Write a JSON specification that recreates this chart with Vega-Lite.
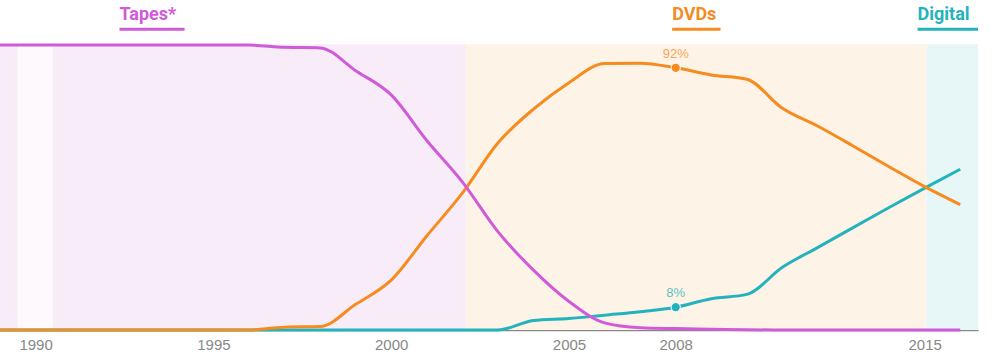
{
  "$schema": "https://vega.github.io/schema/vega-lite/v6.json",
  "width": 978,
  "height": 330,
  "autosize": {"type": "none"},
  "padding": {"top": 0, "left": 0, "right": 29, "bottom": 25},
  "background": "white",
  "config": {"view": {"stroke": null}, "font": "Liberation Sans"},
  "datasets": {
    "bands": [
      {"band": "Tapes", "start": 1989, "end": 2002.1},
      {"band": "Strip", "start": 1989.49, "end": 1990.48},
      {"band": "DVDs", "start": 2002.1, "end": 2015.05},
      {"band": "Digital", "start": 2015.05, "end": 2016.5}
    ],
    "shares": [
      {"year": 1989, "format": "Tapes", "share": 100},
      {"year": 1990, "format": "Tapes", "share": 100},
      {"year": 1991, "format": "Tapes", "share": 100},
      {"year": 1992, "format": "Tapes", "share": 100},
      {"year": 1993, "format": "Tapes", "share": 100},
      {"year": 1994, "format": "Tapes", "share": 100},
      {"year": 1995, "format": "Tapes", "share": 100},
      {"year": 1996, "format": "Tapes", "share": 100},
      {"year": 1997, "format": "Tapes", "share": 99.2},
      {"year": 1998, "format": "Tapes", "share": 99},
      {"year": 1999, "format": "Tapes", "share": 91},
      {"year": 2000, "format": "Tapes", "share": 82.5},
      {"year": 2001, "format": "Tapes", "share": 66.5},
      {"year": 2002, "format": "Tapes", "share": 52},
      {"year": 2003, "format": "Tapes", "share": 34.5},
      {"year": 2004, "format": "Tapes", "share": 21},
      {"year": 2005, "format": "Tapes", "share": 10},
      {"year": 2006, "format": "Tapes", "share": 2.5},
      {"year": 2007, "format": "Tapes", "share": 0.8},
      {"year": 2008, "format": "Tapes", "share": 0.5},
      {"year": 2009, "format": "Tapes", "share": 0.3},
      {"year": 2010, "format": "Tapes", "share": 0.1},
      {"year": 2011, "format": "Tapes", "share": 0},
      {"year": 2012, "format": "Tapes", "share": 0},
      {"year": 2013, "format": "Tapes", "share": 0},
      {"year": 2014, "format": "Tapes", "share": 0},
      {"year": 2015, "format": "Tapes", "share": 0},
      {"year": 2016, "format": "Tapes", "share": 0},
      {"year": 1989, "format": "DVDs", "share": 0},
      {"year": 1990, "format": "DVDs", "share": 0},
      {"year": 1991, "format": "DVDs", "share": 0},
      {"year": 1992, "format": "DVDs", "share": 0},
      {"year": 1993, "format": "DVDs", "share": 0},
      {"year": 1994, "format": "DVDs", "share": 0},
      {"year": 1995, "format": "DVDs", "share": 0},
      {"year": 1996, "format": "DVDs", "share": 0},
      {"year": 1997, "format": "DVDs", "share": 1},
      {"year": 1998, "format": "DVDs", "share": 1.2},
      {"year": 1999, "format": "DVDs", "share": 9},
      {"year": 2000, "format": "DVDs", "share": 17.5},
      {"year": 2001, "format": "DVDs", "share": 33},
      {"year": 2002, "format": "DVDs", "share": 48},
      {"year": 2003, "format": "DVDs", "share": 65.6},
      {"year": 2004, "format": "DVDs", "share": 77.5},
      {"year": 2005, "format": "DVDs", "share": 86.8},
      {"year": 2006, "format": "DVDs", "share": 93.5},
      {"year": 2007, "format": "DVDs", "share": 93.6},
      {"year": 2008, "format": "DVDs", "share": 92},
      {"year": 2009, "format": "DVDs", "share": 89.5},
      {"year": 2010, "format": "DVDs", "share": 88},
      {"year": 2011, "format": "DVDs", "share": 77.8},
      {"year": 2012, "format": "DVDs", "share": 71.5},
      {"year": 2013, "format": "DVDs", "share": 64.5},
      {"year": 2014, "format": "DVDs", "share": 57.3},
      {"year": 2015, "format": "DVDs", "share": 50.3},
      {"year": 2016, "format": "DVDs", "share": 44},
      {"year": 1989, "format": "Digital", "share": 0},
      {"year": 1990, "format": "Digital", "share": 0},
      {"year": 1991, "format": "Digital", "share": 0},
      {"year": 1992, "format": "Digital", "share": 0},
      {"year": 1993, "format": "Digital", "share": 0},
      {"year": 1994, "format": "Digital", "share": 0},
      {"year": 1995, "format": "Digital", "share": 0},
      {"year": 1996, "format": "Digital", "share": 0},
      {"year": 1997, "format": "Digital", "share": 0},
      {"year": 1998, "format": "Digital", "share": 0},
      {"year": 1999, "format": "Digital", "share": 0},
      {"year": 2000, "format": "Digital", "share": 0},
      {"year": 2001, "format": "Digital", "share": 0},
      {"year": 2002, "format": "Digital", "share": 0},
      {"year": 2003, "format": "Digital", "share": 0},
      {"year": 2004, "format": "Digital", "share": 3.3},
      {"year": 2005, "format": "Digital", "share": 4},
      {"year": 2006, "format": "Digital", "share": 5.2},
      {"year": 2007, "format": "Digital", "share": 6.4},
      {"year": 2008, "format": "Digital", "share": 8},
      {"year": 2009, "format": "Digital", "share": 11},
      {"year": 2010, "format": "Digital", "share": 12.5},
      {"year": 2011, "format": "Digital", "share": 22},
      {"year": 2012, "format": "Digital", "share": 29},
      {"year": 2013, "format": "Digital", "share": 36},
      {"year": 2014, "format": "Digital", "share": 43},
      {"year": 2015, "format": "Digital", "share": 49.8},
      {"year": 2016, "format": "Digital", "share": 56.4}
    ],
    "callouts": [
      {"year": 2008, "format": "DVDs", "share": 92, "label": "92%"},
      {"year": 2008, "format": "Digital", "share": 8, "label": "8%"}
    ],
    "headers": [
      {"name": "Tapes*", "format": "Tapes", "start": 1992.36, "end": 1994.19},
      {"name": "DVDs", "format": "DVDs", "start": 2007.9, "end": 2009.26},
      {"name": "Digital", "format": "Digital", "start": 2014.8, "end": 2016.5}
    ]
  },
  "layer": [
    {
      "data": {"name": "bands"},
      "mark": {"type": "rect"},
      "encoding": {
        "x": {"field": "start", "type": "quantitative", "scale": {"domain": [1989, 2016.5], "nice": false, "zero": false},
          "axis": {"values": [1990, 1995, 2000, 2005, 2008, 2015], "format": "d", "ticks": false, "grid": false, "title": null,
            "labelColor": "#888888", "labelFontSize": 15, "labelPadding": 7, "domainColor": "#888888", "domainWidth": 1.5, "labelFont": "Liberation Sans"}},
        "x2": {"field": "end"},
        "y": {"datum": 0, "type": "quantitative", "scale": {"domain": [0, 115.8], "nice": false}, "axis": null},
        "y2": {"datum": 100.3},
        "color": {"field": "band", "type": "nominal", "legend": null,
          "scale": {"domain": ["Tapes", "Strip", "DVDs", "Digital"], "range": ["#f9ecf9", "#fdf9fd", "#fdf3e7", "#e7f7f7"]}}
      }
    },
    {
      "data": {"name": "shares"},
      "transform": [{"filter": "datum.format === 'Digital'"}],
      "mark": {"type": "line", "interpolate": "monotone", "strokeWidth": 3, "color": "#24b3bc"},
      "encoding": {
        "x": {"field": "year", "type": "quantitative"},
        "y": {"field": "share", "type": "quantitative"}
      }
    },
    {
      "data": {"name": "shares"},
      "transform": [{"filter": "datum.format === 'DVDs'"}],
      "mark": {"type": "line", "interpolate": "monotone", "strokeWidth": 3, "color": "#f68b1f"},
      "encoding": {
        "x": {"field": "year", "type": "quantitative"},
        "y": {"field": "share", "type": "quantitative"}
      }
    },
    {
      "data": {"name": "shares"},
      "transform": [{"filter": "datum.format === 'Tapes'"}],
      "mark": {"type": "line", "interpolate": "monotone", "strokeWidth": 3, "color": "#d05bd8"},
      "encoding": {
        "x": {"field": "year", "type": "quantitative"},
        "y": {"field": "share", "type": "quantitative"}
      }
    },
    {
      "data": {"name": "callouts"},
      "mark": {"type": "point", "filled": true, "size": 85, "opacity": 1, "stroke": "white", "strokeWidth": 1},
      "encoding": {
        "x": {"field": "year", "type": "quantitative"},
        "y": {"field": "share", "type": "quantitative"},
        "fill": {"field": "format", "type": "nominal", "legend": null,
          "scale": {"domain": ["Tapes", "DVDs", "Digital"], "range": ["#d05bd8", "#f68b1f", "#24b3bc"]}}
      }
    },
    {
      "data": {"name": "callouts"},
      "mark": {"type": "text", "fontSize": 13, "baseline": "alphabetic", "dy": -10, "align": "center", "opacity": 0.75},
      "encoding": {
        "x": {"field": "year", "type": "quantitative"},
        "y": {"field": "share", "type": "quantitative"},
        "text": {"field": "label"},
        "color": {"field": "format", "type": "nominal", "legend": null,
          "scale": {"domain": ["Tapes", "DVDs", "Digital"], "range": ["#d05bd8", "#f68b1f", "#24b3bc"]}}
      }
    },
    {
      "data": {"name": "headers"},
      "mark": {"type": "rule", "strokeWidth": 3},
      "encoding": {
        "x": {"field": "start", "type": "quantitative"},
        "x2": {"field": "end"},
        "y": {"datum": 105.5, "type": "quantitative"},
        "color": {"field": "format", "type": "nominal", "legend": null,
          "scale": {"domain": ["Tapes", "DVDs", "Digital"], "range": ["#d05bd8", "#f68b1f", "#24b3bc"]}}
      }
    },
    {
      "data": {"name": "headers"},
      "mark": {"type": "text", "fontSize": 18, "fontWeight": "bold", "font": "Roboto", "align": "left", "baseline": "alphabetic"},
      "encoding": {
        "x": {"field": "start", "type": "quantitative"},
        "y": {"datum": 108.9, "type": "quantitative"},
        "text": {"field": "name"},
        "color": {"field": "format", "type": "nominal", "legend": null,
          "scale": {"domain": ["Tapes", "DVDs", "Digital"], "range": ["#d05bd8", "#f68b1f", "#24b3bc"]}}
      }
    }
  ],
  "resolve": {"scale": {"color": "independent", "fill": "independent"}}
}
